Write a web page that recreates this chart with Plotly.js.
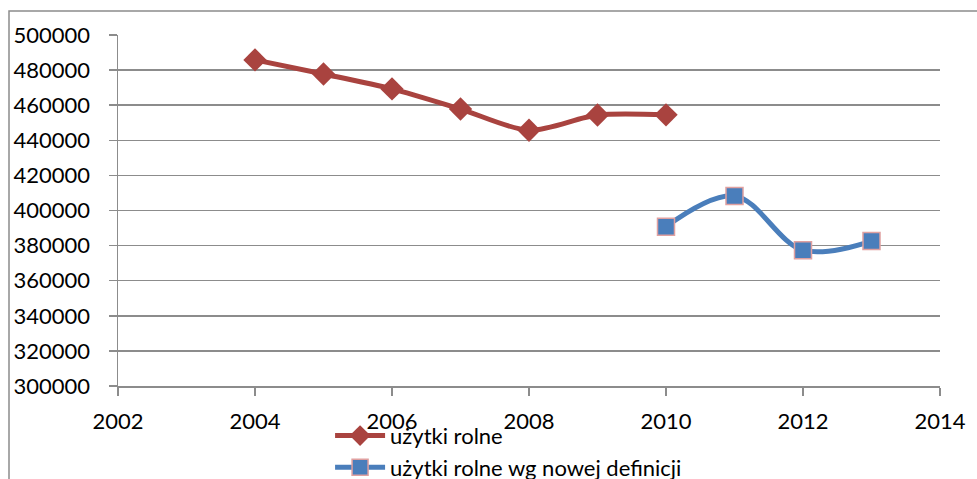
<!DOCTYPE html>
<html>
<head>
<meta charset="utf-8">
<script src="https://cdn.plot.ly/plotly-3.0.1.min.js"></script>
<style>
html,body{margin:0;padding:0;background:#fff;}
#chart{width:977px;height:479px;}
</style>
</head>
<body>
<div id="chart"></div>
<script>
var yearsOld = [2004, 2005, 2006, 2007, 2008, 2009, 2010];
var valuesOld = [485800, 477800, 469300, 457800, 445700, 454400, 454500];
var yearsNew = [2010, 2011, 2012, 2013];
var valuesNew = [390800, 408300, 377400, 382600];
var nameOld = "użytki rolne";
var nameNew = "użytki rolne wg nowej definicji";
var xTicks = [2002, 2004, 2006, 2008, 2010, 2012, 2014];
var yTicks = [300000, 320000, 340000, 360000, 380000, 400000, 420000, 440000, 460000, 480000, 500000];

var gridColor = "#8c8c8c";
var fontFam = "Lato, 'Open Sans', sans-serif";
var fs = 22;

var traces = [
  {
    x: yearsOld, y: valuesOld, name: nameOld, type: "scatter", mode: "lines+markers",
    line: {color: "#A9433F", width: 5, shape: "spline", smoothing: 0.8},
    marker: {symbol: "diamond", size: 18, color: "#A9433F"}
  },
  {
    x: yearsNew, y: valuesNew, name: nameNew, type: "scatter", mode: "lines+markers",
    line: {color: "#4A7EBB", width: 5, shape: "spline", smoothing: 1},
    marker: {symbol: "square", size: 17, color: "#4A7EBB", line: {color: "#E0A0A0", width: 1.5}}
  }
];

var layout = {
  width: 977, height: 479,
  margin: {l: 118, r: 37, t: 35, b: 93, autoexpand: false},
  paper_bgcolor: "#ffffff", plot_bgcolor: "#ffffff",
  font: {family: fontFam, size: fs, color: "#000"},
  showlegend: true,
  legend: {x: 0.258, y: -0.082, xanchor: "left", yanchor: "top", orientation: "v",
           bgcolor: "rgba(0,0,0,0)", font: {size: fs, family: fontFam}, tracegroupgap: 0, itemwidth: 50},
  xaxis: {range: [2002, 2014], tickvals: xTicks, ticktext: xTicks.map(String),
          showgrid: false, zeroline: false, showline: true, linecolor: gridColor, linewidth: 1.5,
          ticks: "outside", ticklen: 8, tickcolor: gridColor, tickwidth: 1.5, ticklabelstandoff: 7,
          tickfont: {size: fs, family: fontFam}, fixedrange: true},
  yaxis: {range: [300000, 500000], tickvals: yTicks, ticktext: yTicks.map(String),
          showgrid: true, gridcolor: gridColor, gridwidth: 1.5, zeroline: false,
          showline: true, linecolor: gridColor, linewidth: 1.5,
          ticks: "outside", ticklen: 8, tickcolor: gridColor, tickwidth: 1.5, ticklabelstandoff: 14,
          tickfont: {size: fs, family: fontFam}, fixedrange: true},
  shapes: [
    {type: "rect", xref: "paper", yref: "paper",
     x0: (9 - 118) / 822, x1: 1.2, y0: -0.5, y1: 1 + (35 - 11) / 351,
     line: {color: "#8c8c8c", width: 1.5}, layer: "below"}
  ]
};

Plotly.newPlot("chart", traces, layout, {displayModeBar: false, staticPlot: true});
</script>
</body>
</html>
